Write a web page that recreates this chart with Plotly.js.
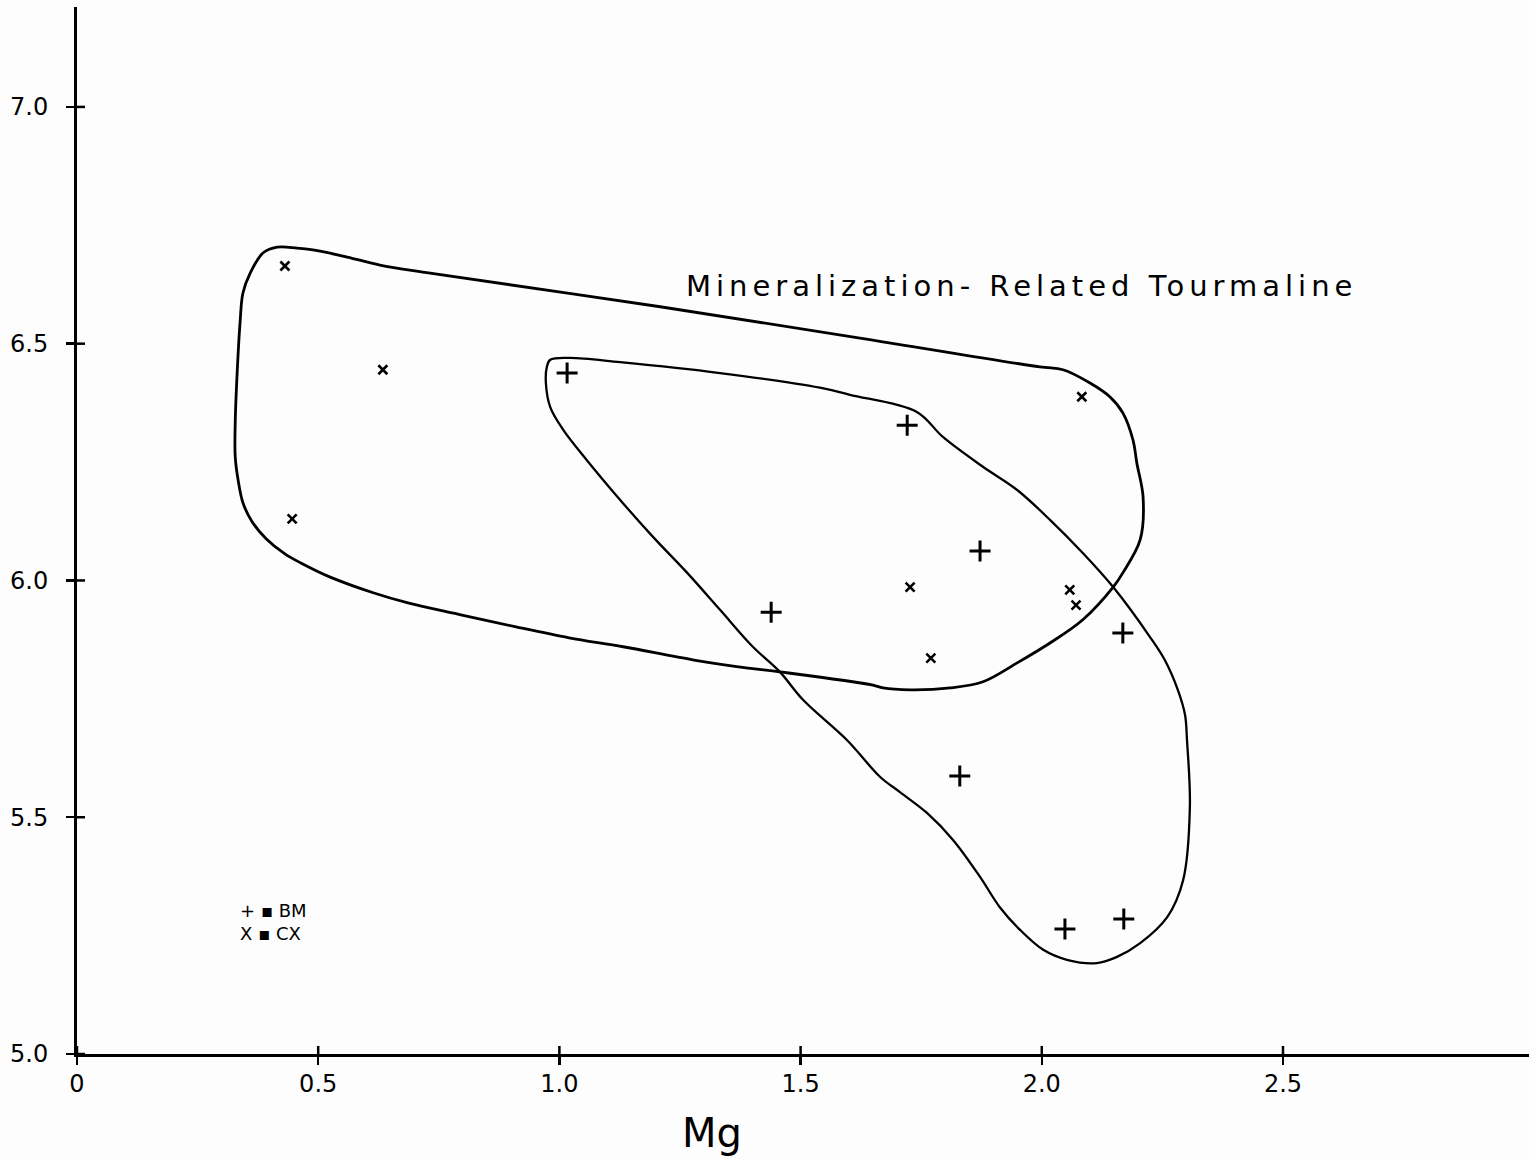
<!DOCTYPE html>
<html>
<head>
<meta charset="utf-8">
<script src="https://cdn.plot.ly/plotly-3.0.1.min.js"></script>
<style>
  html, body { margin: 0; padding: 0; background: #fdfdfd; }
  #chart { width: 1529px; height: 1160px; }
</style>
</head>
<body>
<div id="chart"></div>
<script>
// ---- data (Mg on x, y-axis value unlabelled in source) ----
const bmMg = [1.016, 1.721, 1.872, 1.439, 2.168, 1.830, 2.048, 2.170];
const bmY  = [6.438, 6.328, 6.062, 5.933, 5.889, 5.587, 5.264, 5.285];

const cxMg = [0.431, 0.634, 0.446, 2.083, 1.727, 2.058, 2.071, 1.770];
const cxY  = [6.664, 6.445, 6.130, 6.388, 5.986, 5.980, 5.948, 5.836];

// envelope drawn around the CX samples
const cxFieldX = [0.415,0.456,0.489,0.560,0.628,0.732,1.209,1.623,1.996,2.044,2.100,2.141,2.168,2.189,2.197,2.210,2.204,2.168,2.148,2.085,2.017,1.949,1.878,1.810,1.727,1.671,1.650,1.457,1.391,1.279,1.132,1.020,0.910,0.798,0.688,0.614,0.525,0.464,0.431,0.392,0.363,0.344,0.334,0.328,0.328,0.332,0.338,0.344,0.359,0.386,0.415];
const cxFieldY = [6.704,6.702,6.698,6.683,6.666,6.649,6.578,6.512,6.451,6.445,6.417,6.388,6.354,6.297,6.248,6.176,6.086,6.016,5.986,5.917,5.868,5.826,5.786,5.773,5.769,5.773,5.779,5.807,5.815,5.832,5.860,5.879,5.902,5.927,5.952,5.974,6.007,6.037,6.056,6.088,6.124,6.164,6.212,6.261,6.333,6.438,6.544,6.607,6.649,6.692,6.704];

// envelope drawn around the BM samples
const bmFieldX = [0.974,0.981,1.022,1.126,1.333,1.540,1.602,1.741,1.795,1.878,1.949,2.017,2.085,2.148,2.224,2.255,2.282,2.297,2.301,2.307,2.293,2.260,2.204,2.156,2.114,2.052,2.003,1.955,1.913,1.872,1.816,1.762,1.706,1.665,1.596,1.505,1.457,1.401,1.333,1.265,1.194,1.126,1.057,1.008,0.981,0.972,0.974];
const bmFieldY = [6.451,6.466,6.470,6.461,6.438,6.407,6.392,6.356,6.303,6.240,6.191,6.128,6.058,5.986,5.881,5.832,5.769,5.716,5.663,5.522,5.367,5.289,5.234,5.205,5.192,5.199,5.220,5.262,5.310,5.374,5.452,5.509,5.553,5.585,5.663,5.748,5.807,5.860,5.938,6.016,6.092,6.170,6.254,6.318,6.366,6.417,6.451];

const xTickVals = [0, 0.5, 1.0, 1.5, 2.0, 2.5];
const xTickText = ["0", "0.5", "1.0", "1.5", "2.0", "2.5"];
const yTickVals = [5.0, 5.5, 6.0, 6.5, 7.0];
const yTickText = ["5.0", "5.5", "6.0", "6.5", "7.0"];

const fieldLabel = "Mineralization- Related Tourmaline";
const xTitle = "Mg";
const legendText = "+ ▪ BM<br>X ▪ CX";

// ---- chart ----
const FONT = "DejaVu Sans, Liberation Sans, sans-serif";
const X_RANGE = [0, 3.01];
const Y_RANGE = [5, 7.211];

const traces = [
  { x: cxFieldX, y: cxFieldY, mode: "lines", line: { color: "#000", width: 2.8, shape: "spline", smoothing: 1.0 }, hoverinfo: "skip", showlegend: false },
  { x: bmFieldX, y: bmFieldY, mode: "lines", line: { color: "#000", width: 2.3, shape: "spline", smoothing: 1.0 }, hoverinfo: "skip", showlegend: false },
  { x: bmMg, y: bmY, mode: "markers", name: "BM", marker: { symbol: "cross-thin-open", size: 15, color: "#000", line: { color: "#000", width: 3 } }, showlegend: false },
  { x: cxMg, y: cxY, mode: "markers", name: "CX", marker: { symbol: "x-thin-open", size: 9, color: "#000", line: { color: "#000", width: 2.6 } }, showlegend: false }
];

// inner halves of the tick marks (ticks cross the axis line in the source)
const tickShapes = [];
xTickVals.forEach(function (v) {
  tickShapes.push({ type: "line", xref: "x", yref: "y", x0: v, x1: v, ysizemode: "pixel", yanchor: Y_RANGE[0], y0: 0, y1: 8,
    line: { color: "#000", width: 2.5 } });
});
yTickVals.forEach(function (v) {
  tickShapes.push({ type: "line", xref: "x", yref: "y", y0: v, y1: v, xsizemode: "pixel", xanchor: X_RANGE[0], x0: 0, x1: 8,
    line: { color: "#000", width: 2.5 } });
});

const axisCommon = {
  showgrid: false, zeroline: false, showline: true, linecolor: "#000", linewidth: 3,
  ticks: "outside", ticklen: 8, tickwidth: 2.5, tickcolor: "#000",
  tickfont: { family: FONT, size: 24, color: "#000" }, fixedrange: true
};

const layout = {
  width: 1529, height: 1160,
  margin: { l: 77, r: 0, t: 7, b: 106 },
  paper_bgcolor: "#fdfdfd", plot_bgcolor: "rgba(0,0,0,0)",
  showlegend: false,
  xaxis: Object.assign({}, axisCommon, {
    range: X_RANGE, tickmode: "array", tickvals: xTickVals, ticktext: xTickText,
    ticklabelstandoff: -2
  }),
  yaxis: Object.assign({}, axisCommon, {
    range: Y_RANGE, tickmode: "array", tickvals: yTickVals, ticktext: yTickText,
    ticklabelstandoff: 13
  }),
  shapes: tickShapes,
  annotations: [
    { x: 1.958, y: 6.622, xref: "x", yref: "y", text: fieldLabel, showarrow: false, xanchor: "center", yanchor: "middle",
      font: { family: FONT, size: 29, color: "#000" } },
    { x: 1.316, y: -0.075, xref: "x", yref: "paper", text: xTitle, showarrow: false, xanchor: "center", yanchor: "middle",
      font: { family: FONT, size: 40, color: "#000" } },
    { x: 0.334, y: 5.279, xref: "x", yref: "y", text: legendText, showarrow: false, xanchor: "left", yanchor: "middle", align: "left",
      font: { family: FONT, size: 18, color: "#000" } }
  ]
};

Plotly.newPlot("chart", traces, layout, { staticPlot: true, displayModeBar: false }).then(function () {
  document.querySelectorAll(".annotation-text").forEach(function (el) {
    if (el.textContent.indexOf("Mineralization") === 0) {
      el.style.letterSpacing = "5px";
    }
  });
});
</script>
</body>
</html>
